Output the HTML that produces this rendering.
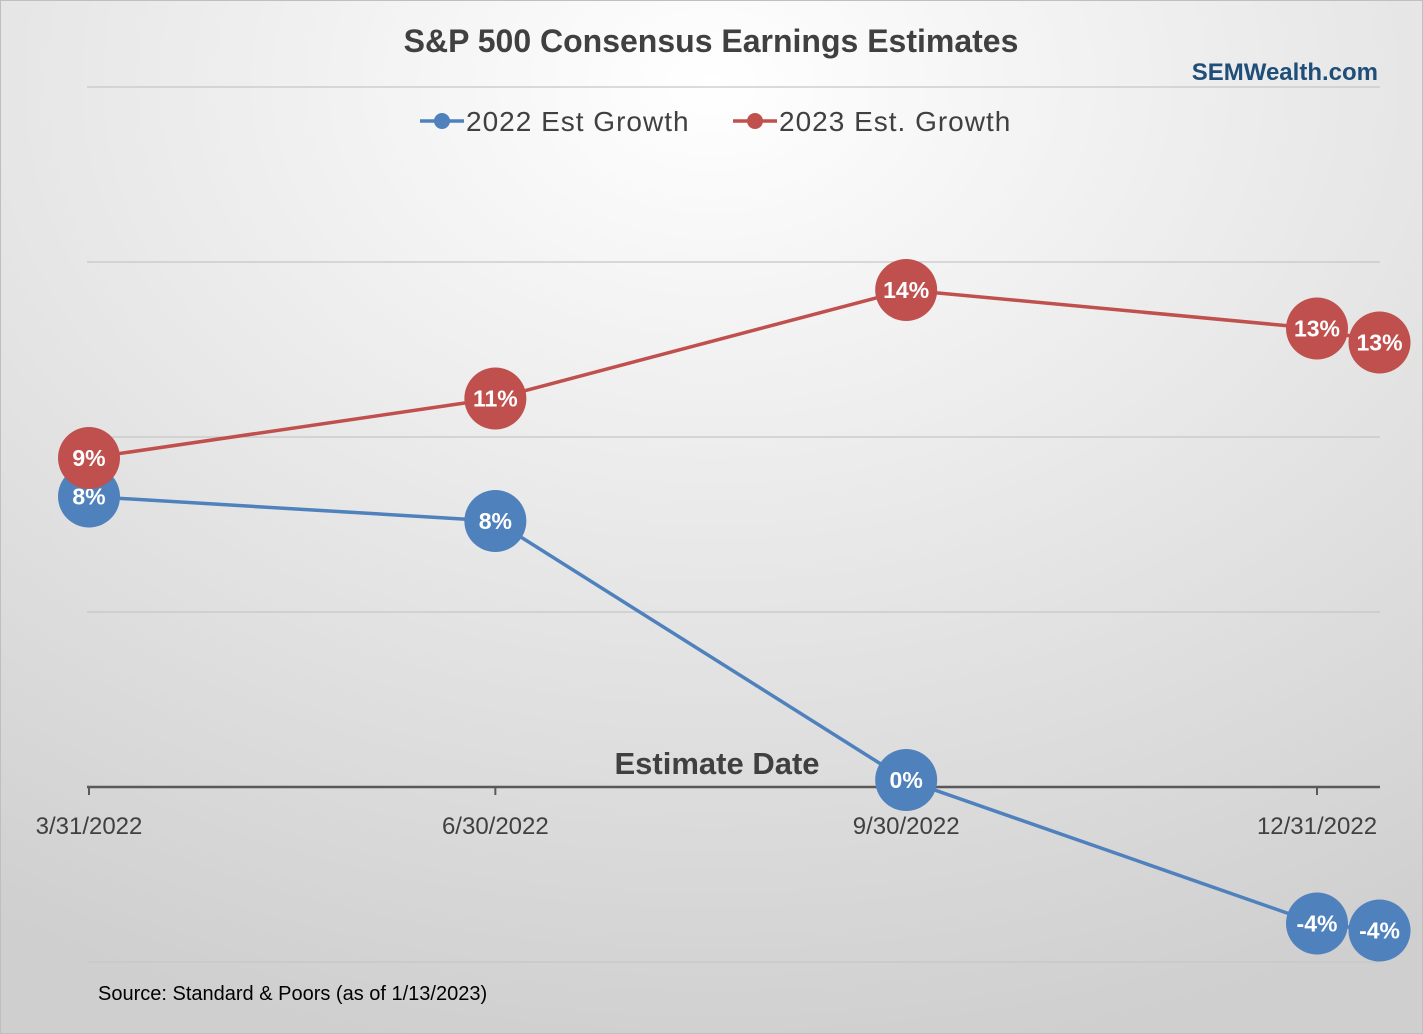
<!DOCTYPE html>
<html><head><meta charset="utf-8"><style>
html,body{margin:0;padding:0;width:1423px;height:1034px;overflow:hidden;background:#fff}
#c{position:absolute;left:0;top:0}
</style></head><body>
<svg id="c" width="1423" height="1034" xmlns="http://www.w3.org/2000/svg" font-family="'Liberation Sans', sans-serif">
<defs>
<radialGradient id="bg" cx="0.5" cy="0.08" r="0.95" fx="0.5" fy="0.08">
<stop offset="0" stop-color="#ffffff"/><stop offset="1" stop-color="#cfcfcf"/>
</radialGradient>
</defs>
<rect x="0.5" y="0.5" width="1422" height="1033" fill="url(#bg)" stroke="#bfbfbf"/>
<g id="grid"></g>
<g id="axis"></g>
<g id="series"></g>
<text x="711" y="52" text-anchor="middle" font-size="32" font-weight="bold" fill="#404040">S&amp;P 500 Consensus Earnings Estimates</text>
<text x="1378" y="80" text-anchor="end" font-size="24" font-weight="bold" fill="#1f4e79">SEMWealth.com</text>
<g>
<g>
<line x1="420" y1="121" x2="464" y2="121" stroke="#4f81bd" stroke-width="3.5"/>
<circle cx="442" cy="121" r="8" fill="#4f81bd"/>
<text x="466" y="131" font-size="28" letter-spacing="1" fill="#404040">2022 Est Growth</text></g>
<g>
<line x1="733" y1="121" x2="777" y2="121" stroke="#c0504d" stroke-width="3.5"/>
<circle cx="755" cy="121" r="8" fill="#c0504d"/>
<text x="779" y="131" font-size="28" letter-spacing="1" fill="#404040">2023 Est. Growth</text></g>
</g>
<text x="717" y="774" text-anchor="middle" font-size="31" font-weight="bold" fill="#404040">Estimate Date</text>
<text x="98" y="1000" font-size="20" fill="#000">Source: Standard &amp; Poors (as of 1/13/2023)</text>
</svg>
<script>
const dayOffsets=[0,91,183,275,289];
const s2022=[8.3,7.6,0.2,-3.9,-4.1];
const s2023=[9.4,11.1,14.2,13.1,12.7];
const labels2022=["8%","8%","0%","-4%","-4%"];
const labels2023=["9%","11%","14%","13%","13%"];
const tickDays=[0,91,183,275];
const tickLabels=["3/31/2022","6/30/2022","9/30/2022","12/31/2022"];
const gridVals=[-5,0,5,10,15,20];
const X0=89,XPD=(1317-89)/275,Y0=787,YP=35;
const xs=d=>X0+d*XPD, ys=v=>Y0-v*YP;
const NS="http://www.w3.org/2000/svg";
function mk(tag,attrs,parent){const e=document.createElementNS(NS,tag);for(const k in attrs)e.setAttribute(k,attrs[k]);parent.appendChild(e);return e;}
const grid=document.getElementById('grid'),axis=document.getElementById('axis'),ser=document.getElementById('series');
gridVals.forEach(v=>{if(v===0)return;
const l=mk('line',{x1:87,x2:1380,y1:ys(v),y2:ys(v),stroke:'#c6c6c6','stroke-width':1.3},grid);

});
const al=mk('line',{x1:87,x2:1380,y1:ys(0),y2:ys(0),stroke:'#595959','stroke-width':2.5},axis);


tickDays.forEach((d,i)=>{
const t=mk('line',{x1:xs(d),x2:xs(d),y1:ys(0),y2:ys(0)+8,stroke:'#595959','stroke-width':2},axis);


const tx=mk('text',{x:xs(d),y:834,'text-anchor':'middle','font-size':24,fill:'#404040'},axis);
tx.textContent=tickLabels[i];

});
function drawSeries(vals,labs,color,name){
const p=mk('polyline',{points:vals.map((v,i)=>xs(dayOffsets[i])+','+ys(v)).join(' '),fill:'none',stroke:color,'stroke-width':3.5},ser);


vals.forEach((v,i)=>{
const c=mk('circle',{cx:xs(dayOffsets[i]),cy:ys(v),r:31,fill:color},ser);


const t=mk('text',{x:xs(dayOffsets[i]),y:ys(v)+8,'text-anchor':'middle','font-size':23,'font-weight':'bold',fill:'#fff'},ser);
t.textContent=labs[i];

});}
drawSeries(s2022,labels2022,'#4f81bd','series-2022');
drawSeries(s2023,labels2023,'#c0504d','series-2023');
</script>
</body></html>
